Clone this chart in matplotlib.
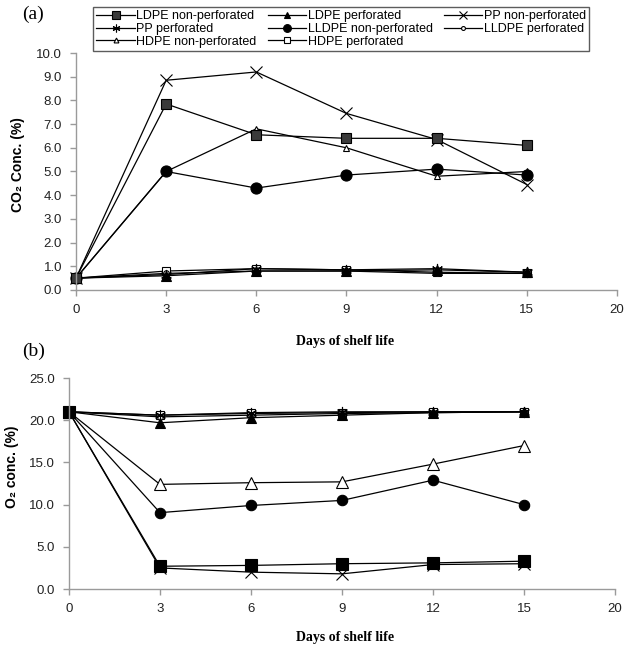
import matplotlib
matplotlib.use("Agg")
import matplotlib.pyplot as plt
import numpy as np

# x positions are evenly spaced categories, 20 has no data
day_labels = ["0", "3", "6", "9", "12", "15", "20"]
n_days = 6

series_names = [
    "LDPE non-perforated",
    "LDPE perforated",
    "PP non-perforated",
    "PP perforated",
    "LLDPE non-perforated",
    "LLDPE perforated",
    "HDPE non-perforated",
    "HDPE perforated",
]

co2_ldpe_np = [0.5, 7.85, 6.55, 6.4, 6.4, 6.1]
co2_ldpe_p = [0.5, 0.6, 0.8, 0.8, 0.85, 0.75]
co2_pp_np = [0.5, 8.85, 9.2, 7.45, 6.35, 4.45]
co2_pp_p = [0.5, 0.65, 0.9, 0.85, 0.9, 0.75]
co2_lldpe_np = [0.5, 5.0, 4.3, 4.85, 5.1, 4.85]
co2_lldpe_p = [0.5, 0.7, 0.8, 0.8, 0.7, 0.7]
co2_hdpe_np = [0.5, 5.0, 6.8, 6.0, 4.8, 5.0]
co2_hdpe_p = [0.5, 0.8, 0.9, 0.85, 0.75, 0.7]

o2_ldpe_np = [21.0, 2.7, 2.8, 3.0, 3.1, 3.3]
o2_ldpe_p = [21.0, 19.7, 20.3, 20.6, 20.9, 21.0]
o2_pp_np = [21.0, 2.5, 2.0, 1.8, 2.9, 3.0]
o2_pp_p = [21.0, 20.6, 20.9, 21.0, 21.0, 21.0]
o2_lldpe_np = [21.0, 9.05, 9.9, 10.5, 12.9, 10.0]
o2_lldpe_p = [21.0, 20.4, 20.6, 20.8, 20.9, 21.0]
o2_hdpe_np = [21.0, 12.4, 12.6, 12.7, 14.8, 17.0]
o2_hdpe_p = [21.0, 20.6, 20.8, 20.9, 21.0, 21.0]

co2_series = [co2_ldpe_np, co2_ldpe_p, co2_pp_np, co2_pp_p,
              co2_lldpe_np, co2_lldpe_p, co2_hdpe_np, co2_hdpe_p]
o2_series = [o2_ldpe_np, o2_ldpe_p, o2_pp_np, o2_pp_p,
             o2_lldpe_np, o2_lldpe_p, o2_hdpe_np, o2_hdpe_p]

# marker, size, facecolor  (panel a / panel b)
styles_a = [
    ("s", 7.5, "#3a3a3a"),
    ("^", 6.5, "black"),
    ("x", 9, "black"),
    ((6, 2, 0), 8, "black"),
    ("o", 8, "black"),
    ("o", 4, "white"),
    ("^", 5, "white"),
    ("s", 6, "white"),
]
styles_b = [
    ("s", 8, "black"),
    ("^", 6.5, "black"),
    ("x", 9, "black"),
    ((6, 2, 0), 8, "black"),
    ("o", 7.5, "black"),
    ("o", 4, "white"),
    ("^", 9, "white"),
    ("s", 6, "white"),
]

sans = ["Liberation Sans", "DejaVu Sans"]
serif = ["Liberation Serif", "DejaVu Serif"]
axis_grey = "#9a9a9a"

plt.rcParams["font.family"] = sans


def draw_panel(axis, series, styles, ymax, ystep):
    x = np.arange(n_days)
    handles = []
    # draw in reverse so LDPE sits on top like the original
    for values, (marker, size, face), name in reversed(
        list(zip(series, styles, series_names))
    ):
        (line,) = axis.plot(
            x,
            values,
            color="black",
            linewidth=0.9,
            marker=marker,
            markersize=size,
            markerfacecolor=face,
            markeredgecolor="black",
            markeredgewidth=0.8,
            clip_on=False,
            label=name,
        )
        handles.append(line)
    handles.reverse()

    axis.set_xlim(0, len(day_labels) - 1)
    axis.set_ylim(0, ymax)
    axis.set_xticks(np.arange(len(day_labels)))
    axis.set_xticklabels(day_labels)
    yticks = np.arange(0, ymax + ystep / 2, ystep)
    axis.set_yticks(yticks)
    axis.set_yticklabels([f"{v:.1f}" for v in yticks])

    for side in ("top", "right"):
        axis.spines[side].set_visible(False)
    for side in ("left", "bottom"):
        axis.spines[side].set_color(axis_grey)
        axis.spines[side].set_linewidth(1.0)
    axis.tick_params(
        colors=axis_grey,
        labelcolor="#222222",
        labelsize=9.5,
        length=4,
        width=1.0,
        pad=6,
    )
    return handles


figure = plt.figure(figsize=(6.26, 6.48), dpi=100)
axis_a = figure.add_axes([0.1214, 0.5525, 0.8642, 0.3657])
axis_b = figure.add_axes([0.1102, 0.0910, 0.8722, 0.3256])

handles = draw_panel(axis_a, co2_series, styles_a, 10.0, 1.0)
draw_panel(axis_b, o2_series, styles_b, 25.0, 5.0)

# legend is filled row by row in the original
order = [0, 3, 6, 1, 4, 7, 2, 5]
legend = figure.legend(
    [handles[i] for i in order],
    [series_names[i] for i in order],
    loc="upper left",
    bbox_to_anchor=(87 / 626, 1 - 47 / 648, 508 / 626, 46 / 648),
    mode="expand",
    ncol=3,
    fontsize=9,
    frameon=True,
    fancybox=False,
    edgecolor="#333333",
    handlelength=3.1,
    handletextpad=0.1,
    labelspacing=0.05,
    borderpad=0.25,
    columnspacing=0.5,
    markerscale=0.7,
)
legend.get_frame().set_linewidth(1.0)

figure.text(18 / 626, 1 - 165 / 648, "CO₂ Conc. (%)", rotation=90,
            ha="center", va="center", fontsize=10, fontweight="bold",
            family=sans)
figure.text(12 / 626, 1 - 467 / 648, "O₂ conc. (%)", rotation=90,
            ha="center", va="center", fontsize=10, fontweight="bold",
            family=sans)

figure.text(345 / 626, 1 - 341 / 648, "Days of shelf life", ha="center",
            va="center", fontsize=10, fontweight="bold", family=serif)
figure.text(345 / 626, 1 - 638 / 648, "Days of shelf life", ha="center",
            va="center", fontsize=10, fontweight="bold", family=serif)

figure.text(33 / 626, 1 - 14 / 648, "(a)", ha="center", va="center",
            fontsize=14, family=serif)
figure.text(34 / 626, 1 - 351 / 648, "(b)", ha="center", va="center",
            fontsize=14, family=serif)

figure.savefig("out.png", dpi=100)
